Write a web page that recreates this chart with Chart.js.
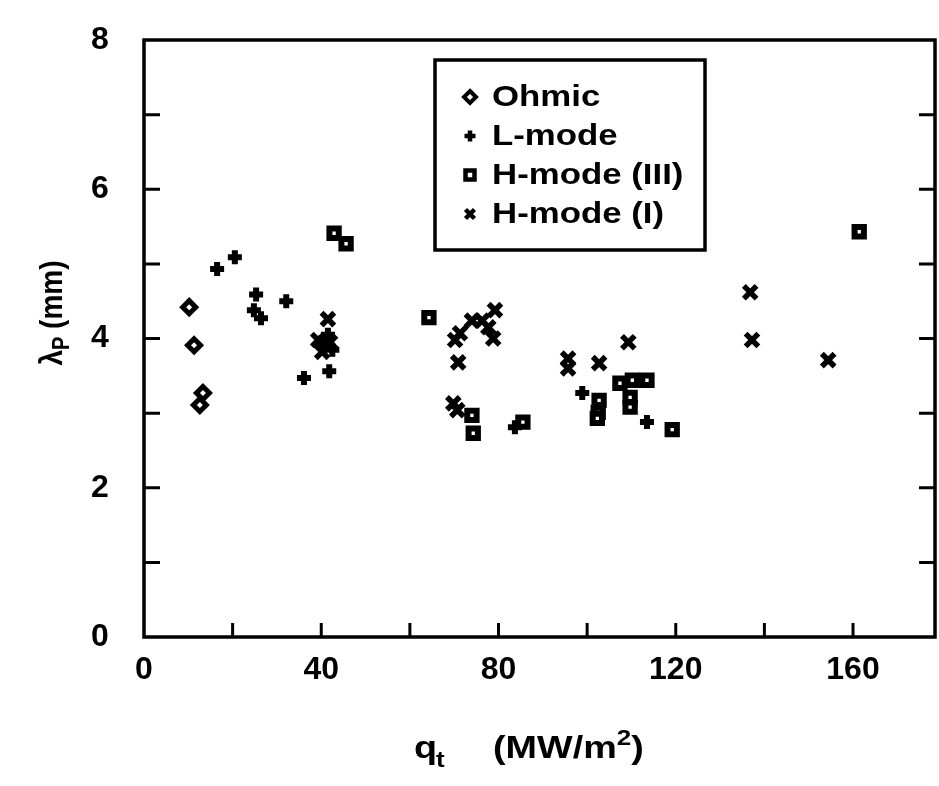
<!DOCTYPE html>
<html><head><meta charset="utf-8">
<script src="https://cdn.jsdelivr.net/npm/chart.js@4.4.1/dist/chart.umd.min.js"></script>
<style>html,body{margin:0;padding:0;background:#fff;}canvas{display:block}</style>
</head><body>
<canvas id="c" width="939" height="786"></canvas>
<script>
// ---- data ----
const seriesNames = ['Ohmic', 'L-mode', 'H-mode (III)', 'H-mode (I)'];

const ohmicX = [10.2, 11.3, 13.3, 12.6];
const ohmicY = [4.42, 3.91, 3.27, 3.11];

const lmodeX = [16.5, 20.5, 25.3, 24.8, 26.4, 32.1, 36.1, 41.8, 40.0, 42.5, 41.5, 98.9, 83.7, 113.5];
const lmodeY = [4.93, 5.09, 4.59, 4.38, 4.27, 4.50, 3.47, 3.56, 3.95, 3.85, 4.05, 3.27, 2.81, 2.88];

const h3X = [42.9, 45.6, 64.3, 74.0, 74.3, 85.5, 102.7, 102.5, 102.3, 107.4, 110.2, 113.5, 109.7, 109.7, 119.2, 161.4];
const h3Y = [5.41, 5.27, 4.28, 2.97, 2.73, 2.88, 3.17, 3.01, 2.93, 3.40, 3.44, 3.44, 3.21, 3.08, 2.78, 5.43];

const h1X = [41.5, 39.3, 42.0, 40.2, 79.2, 74.0, 76.3, 77.7, 71.3, 70.2, 78.8, 70.9, 69.8, 70.7, 95.7, 95.7, 102.7, 109.3, 136.8, 137.2, 154.4];
const h1Y = [4.26, 3.98, 3.95, 3.82, 4.38, 4.24, 4.24, 4.15, 4.07, 3.98, 4.00, 3.68, 3.13, 3.04, 3.73, 3.60, 3.67, 3.95, 4.62, 3.98, 3.71];

const xTickLabels = [0, 40, 80, 120, 160];
const yTickLabels = [0, 2, 4, 6, 8];
const xMinorTicks = [20, 40, 60, 80, 100, 120, 140, 160];
const yMinorTicks = [1, 2, 3, 4, 5, 6, 7];

const FONT = '"Liberation Sans", Arial, Helvetica, sans-serif';

// the plot frame is placed by explicit padding; do not let marker size enlarge it
try {
  const SC = Chart.registry.getController('scatter');
  if (SC && SC.prototype) SC.prototype.getMaxOverflow = function () { return 0; };
} catch (e) {}

function pts(xs, ys) { return xs.map((x, i) => ({ x: x, y: ys[i] })); }

const styles = [
  { pointStyle: 'rectRot', radius: 6.5, borderWidth: 5 },
  { pointStyle: 'cross', radius: 7, borderWidth: 6 },
  { pointStyle: 'rect', radius: 6.6, borderWidth: 6 },
  { pointStyle: 'crossRot', radius: 9, borderWidth: 5.5 }
];

const datasets = [
  [ohmicX, ohmicY], [lmodeX, lmodeY], [h3X, h3Y], [h1X, h1Y]
].map((d, i) => ({
  label: seriesNames[i],
  data: pts(d[0], d[1]),
  pointStyle: styles[i].pointStyle,
  pointRadius: styles[i].radius,
  pointBorderWidth: styles[i].borderWidth,
  pointBackgroundColor: '#fff',
  pointBorderColor: '#000',
  borderColor: '#000',
  backgroundColor: '#fff',
  showLine: false,
  clip: false
}));

function stretchedText(ctx, txt, x, y, sx) {
  ctx.save();
  ctx.translate(x, y);
  ctx.scale(sx, 1);
  ctx.fillText(txt, 0, 0);
  ctx.restore();
  return ctx.measureText(txt).width * sx;
}

const framePlugin = {
  id: 'frameTicks',
  afterDraw(chart) {
    const ctx = chart.ctx, a = chart.chartArea;
    const xs = chart.scales.x, ys = chart.scales.y;
    ctx.save();
    ctx.strokeStyle = '#000';
    ctx.lineWidth = 3.5;
    ctx.strokeRect(a.left, a.top, a.right - a.left, a.bottom - a.top);
    ctx.lineWidth = 3;
    ctx.beginPath();
    xMinorTicks.forEach(v => {
      const p = xs.getPixelForValue(v);
      ctx.moveTo(p, a.bottom); ctx.lineTo(p, a.bottom - 14);
    });
    yMinorTicks.forEach(v => {
      const p = ys.getPixelForValue(v);
      ctx.moveTo(a.left, p); ctx.lineTo(a.left + 16, p);
      ctx.moveTo(a.right, p); ctx.lineTo(a.right - 16, p);
    });
    ctx.stroke();

    // legend box
    const L = { x: 435, y: 60, w: 270, h: 190 };
    ctx.lineWidth = 3.5;
    ctx.strokeRect(L.x, L.y, L.w, L.h);
    const rows = [97, 136, 175, 214];
    ctx.textBaseline = 'middle';
    ctx.textAlign = 'left';
    chart.data.datasets.forEach((ds, i) => {
      const cx = 470, cy = rows[i];
      ctx.strokeStyle = '#000';
      ctx.fillStyle = '#fff';
      ctx.beginPath();
      if (i === 0) {
        ctx.lineWidth = 4;
        ctx.moveTo(cx, cy - 6); ctx.lineTo(cx + 6, cy); ctx.lineTo(cx, cy + 6); ctx.lineTo(cx - 6, cy); ctx.closePath();
        ctx.fill(); ctx.stroke();
      } else if (i === 1) {
        ctx.lineWidth = 4.5;
        ctx.moveTo(cx - 5.5, cy); ctx.lineTo(cx + 5.5, cy); ctx.moveTo(cx, cy - 5.5); ctx.lineTo(cx, cy + 5.5);
        ctx.stroke();
      } else if (i === 2) {
        ctx.lineWidth = 4.5;
        ctx.rect(cx - 4.5, cy - 4.5, 9, 9); ctx.fill(); ctx.stroke();
      } else {
        ctx.lineWidth = 4.5;
        ctx.moveTo(cx - 4.5, cy - 4.5); ctx.lineTo(cx + 4.5, cy + 4.5); ctx.moveTo(cx + 4.5, cy - 4.5); ctx.lineTo(cx - 4.5, cy + 4.5);
        ctx.stroke();
      }
      ctx.fillStyle = '#000';
      ctx.font = 'bold 30px ' + FONT;
      stretchedText(ctx, ds.label, 492, cy + 1, 1.16);
    });

    // x title: q_t (MW/m^2)
    ctx.fillStyle = '#000';
    ctx.textBaseline = 'alphabetic';
    ctx.textAlign = 'left';
    const SX = 1.18;
    let x = 414; const by = 758;
    ctx.font = 'bold 32px ' + FONT;
    x += stretchedText(ctx, 'q', x, by, SX);
    ctx.font = 'bold 22px ' + FONT;
    stretchedText(ctx, 't', x - 1, by + 9, SX);
    x = 493;
    ctx.font = 'bold 32px ' + FONT;
    x += stretchedText(ctx, '(MW/m', x, by, SX);
    ctx.font = 'bold 22px ' + FONT;
    x += stretchedText(ctx, '2', x, by - 13, SX);
    ctx.font = 'bold 32px ' + FONT;
    stretchedText(ctx, ')', x, by, SX);

    // y title: λ_P (mm), rotated
    ctx.save();
    ctx.translate(62, 313);
    ctx.rotate(-Math.PI / 2);
    ctx.scale(1, 1.15);
    ctx.font = 'bold 28px ' + FONT;
    const wl = ctx.measureText('\u03bb').width;
    const wm = ctx.measureText(' (mm)').width;
    ctx.font = 'bold 20px ' + FONT;
    const wp = ctx.measureText('P').width;
    let tx = -(wl + wp + wm) / 2;
    ctx.font = 'bold 28px ' + FONT;
    ctx.fillText('\u03bb', tx, 0); tx += wl;
    ctx.font = 'bold 20px ' + FONT;
    ctx.fillText('P', tx, 6); tx += wp;
    ctx.font = 'bold 28px ' + FONT;
    ctx.fillText(' (mm)', tx, 0);
    ctx.restore();
    ctx.restore();
  }
};

const chart = new Chart(document.getElementById('c'), {
  type: 'scatter',
  data: { datasets: datasets },
  options: {
    responsive: false,
    devicePixelRatio: 1,
    animation: false,
    layout: { padding: { left: 91, right: 4, top: 40, bottom: 0 } },
    plugins: { legend: { display: false }, tooltip: { enabled: false } },
    scales: {
      x: {
        type: 'linear', min: 0, max: 178.5,
        afterFit: s => { s.height = 149; },
        afterBuildTicks: s => { s.ticks = xTickLabels.map(v => ({ value: v })); },
        grid: { display: false, drawTicks: false },
        border: { display: false },
        ticks: { color: '#000', padding: 14, font: { family: FONT, size: 32, weight: 'bold' }, maxRotation: 0, autoSkip: false }
      },
      y: {
        type: 'linear', min: 0, max: 8,
        afterFit: s => { s.width = 53; },
        afterBuildTicks: s => { s.ticks = yTickLabels.map(v => ({ value: v })); },
        grid: { display: false, drawTicks: false },
        border: { display: false },
        ticks: { color: '#000', padding: 0, crossAlign: 'far', font: { family: FONT, size: 32, weight: 'bold' }, autoSkip: false }
      }
    }
  },
  plugins: [framePlugin]
});
</script>
</body></html>
